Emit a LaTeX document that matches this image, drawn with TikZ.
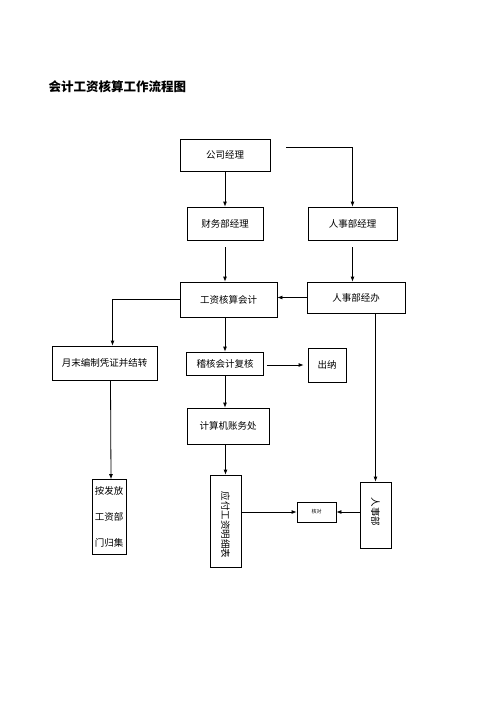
\documentclass[tikz,border=0pt]{standalone}
\usepackage{fontspec}
\newfontfamily\cjk{Noto Sans CJK SC}
\usetikzlibrary{arrows.meta,calc}
\begin{document}
\begin{tikzpicture}[x=1pt,y=-1pt,
  box/.style={draw,line width=0.8pt,rectangle,inner sep=0pt,font=\cjk\fontsize{9.5}{11}\selectfont},
  arr/.style={line width=0.8pt,-{Latex[length=5pt,width=4pt]}}]
\useasboundingbox (0,0) rectangle (496,702);
\node[anchor=west,font=\cjk\bfseries\fontsize{12.5}{14}\selectfont] (title) at (45,87) {会计工资核算工作流程图};
\node[box,minimum width=90,minimum height=32] (gs) at (225,155) {公司经理};
\node[box,minimum width=76,minimum height=33] (cw) at (225,223.5) {财务部经理};
\node[box,minimum width=89,minimum height=33] (rsj) at (352.5,223.5) {人事部经理};
\node[box,minimum width=97,minimum height=35] (gz) at (228.5,299.5) {工资核算会计};
\node[box,minimum width=98,minimum height=31] (rsb) at (356,297.5) {人事部经办};
\node[box,minimum width=105,minimum height=34] (yd) at (104.5,363) {月末编制凭证并结转};
\node[box,minimum width=77,minimum height=23] (jh) at (225,363.5) {稽核会计复核};
\node[box,minimum width=38,minimum height=34] (cn) at (327,365) {出纳};
\node[box,minimum width=82,minimum height=36] (js) at (228,426) {计算机账务处};
\node[box,minimum width=31,minimum height=92] (yf) at (225.5,521) {};
\node[rotate=-90,font=\cjk\fontsize{9.5}{11}\selectfont,inner sep=0pt] (yft) at (225.5,525) {应付工资明细表};
\node[box,minimum width=39,minimum height=20,font=\cjk\fontsize{5}{6}\selectfont] (xb) at (316.5,512) {核对};
\node[box,minimum width=31,minimum height=66] (rsd) at (375.5,515) {};
\node[rotate=-90,font=\cjk\fontsize{9.5}{11}\selectfont,inner sep=0pt] (rsdt) at (375.5,512) {人事部};
\node[box,minimum width=34,minimum height=75,align=center,font=\cjk\fontsize{9.5}{26}\selectfont] (af) at (109,517) {按发放\\工资部\\门归集};
% connectors
\draw[arr] ($(gs.east)+(16,-8)$) -| (rsj.north);
\draw[arr] (gs.south) -- (cw.north);
\draw[arr] ($(cw.south)+(0,7)$) -- (gz.north -| cw.south);
\draw[arr] ($(rsj.south)+(0,7)$) -- (rsb.north -| rsj.south);
\draw[arr] (rsb.west) -- (gz.east |- rsb.west);
\draw[arr] (gz.west) -| ($(yd.north)+(8,0)$);
\draw[arr] (jh.north |- gz.south) -- (jh.north);
\draw[arr] ($(jh.east |- cn.west)+(3,0)$) -- ($(cn.west)+(-4,0)$);
\draw[arr] (jh.south) -- (jh.south |- js.north);
\draw[arr] (js.south -| yf.north) -- (yf.north);
\draw[arr] ($(yd.south)+(6,0)$) -- ($(af.north)+(2,0)$);
\draw[arr] (rsd.north |- rsb.south) -- (rsd.north);
\draw[arr] (yf.east |- xb.west) -- (xb.west);
\draw[arr] (rsd.west |- xb.east) -- (xb.east);
\end{tikzpicture}
\end{document}
